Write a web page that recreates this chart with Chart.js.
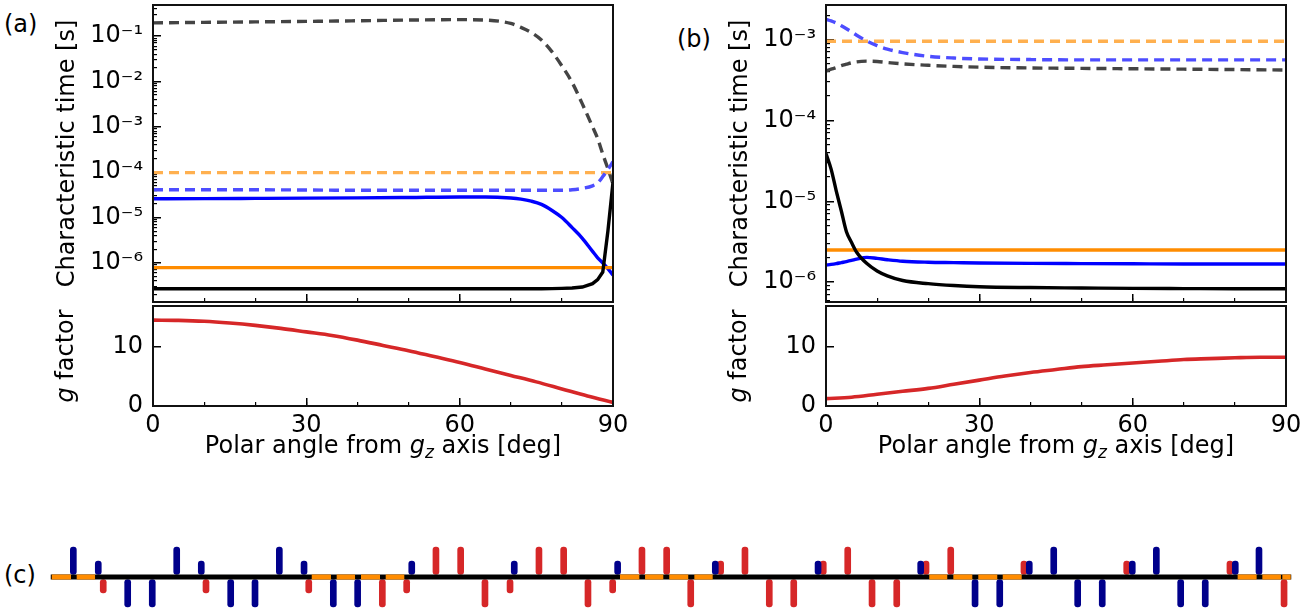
<!DOCTYPE html>
<html>
<head>
<meta charset="utf-8">
<script src="https://cdn.jsdelivr.net/npm/chart.js@4.4.0/dist/chart.umd.min.js"></script>
<style>
body{margin:0;background:#fff;width:1316px;height:614px;overflow:hidden;position:relative;font-family:"DejaVu Sans",sans-serif;}
canvas{position:absolute;}
.lbl{position:absolute;font-size:24px;color:#000;}
</style>
</head>
<body>
<div class="lbl" style="left:4px;top:10px">(a)</div>
<div class="lbl" style="left:677px;top:25px">(b)</div>
<div class="lbl" style="left:4px;top:561px">(c)</div>
<canvas id="aTop" width="625" height="303" style="left:0;top:0"></canvas>
<canvas id="aG" width="640" height="175" style="left:0;top:303px"></canvas>
<canvas id="bTop" width="626" height="303" style="left:672px;top:0"></canvas>
<canvas id="bG" width="640" height="175" style="left:672px;top:303px"></canvas>
<canvas id="seq" width="1316" height="74" style="left:0;top:540px"></canvas>
<script>
// ---- panel (a) data ----
var anglesA = [0,10,20,30,40,50,60,65,70,72,74,76,78,80,82,84,86,87,88,89,90];
var grayDashA = [0.195,0.2,0.205,0.21,0.217,0.225,0.23,0.225,0.19,0.155,0.12,0.082,0.046,0.022,0.0095,0.0032,0.001,0.00055,0.00025,0.00012,0.000055];
var blueDashA = [4.1e-5,4.1e-5,4.1e-5,4.05e-5,4.0e-5,4.0e-5,4.0e-5,4.0e-5,4.0e-5,4.0e-5,4.0e-5,4.0e-5,4.0e-5,4.0e-5,4.1e-5,4.4e-5,5.0e-5,5.8e-5,8.0e-5,1.15e-4,1.7e-4];
var blueA = [2.6e-5,2.62e-5,2.65e-5,2.68e-5,2.72e-5,2.78e-5,2.85e-5,2.85e-5,2.7e-5,2.55e-5,2.3e-5,1.95e-5,1.45e-5,1.0e-5,6e-6,3.5e-6,1.8e-6,1.3e-6,1.0e-6,7.5e-7,5.4e-7];
var blackA = [2.7e-7,2.7e-7,2.7e-7,2.7e-7,2.7e-7,2.7e-7,2.7e-7,2.7e-7,2.7e-7,2.7e-7,2.7e-7,2.7e-7,2.72e-7,2.75e-7,2.8e-7,2.95e-7,3.5e-7,4.3e-7,6.3e-7,5e-6,6e-5];
var flatAngles = [0, 90];
var orangeDashA = [9.8e-5, 9.8e-5];
var orangeA = [7.9e-7, 7.9e-7];
var gAngles = [0,5,10,15,20,25,30,35,40,45,50,55,60,65,70,75,80,85,90];
var gA = [14.6,14.55,14.4,14.1,13.7,13.2,12.6,12.0,11.2,10.3,9.4,8.4,7.4,6.3,5.2,4.1,2.9,1.7,0.6];
var rangeA = [1.38e-7, 0.483];
var tickValsA = [1e-6,1e-5,1e-4,1e-3,1e-2,1e-1];
var tickLabelsA = ['10\u207B\u2076','10\u207B\u2075','10\u207B\u2074','10\u207B\u00B3','10\u207B\u00B2','10\u207B\u00B9'];

// ---- panel (b) data ----
var anglesB = [0,1,2,3,4,5,6,8,10,12,15,20,25,30,40,50,60,70,80,90];
var blueDashB = [1.78e-3,1.7e-3,1.6e-3,1.48e-3,1.36e-3,1.24e-3,1.13e-3,9.6e-4,8.4e-4,7.6e-4,6.9e-4,6.2e-4,5.9e-4,5.75e-4,5.65e-4,5.6e-4,5.6e-4,5.6e-4,5.6e-4,5.6e-4];
var grayDashB = [4.1e-4,4.3e-4,4.5e-4,4.75e-4,4.95e-4,5.15e-4,5.3e-4,5.4e-4,5.35e-4,5.2e-4,5.0e-4,4.8e-4,4.65e-4,4.55e-4,4.45e-4,4.4e-4,4.35e-4,4.3e-4,4.25e-4,4.2e-4];
var blackB = [3.9e-5,2.5e-5,1.35e-5,7.6e-6,4.2e-6,3.1e-6,2.35e-6,1.7e-6,1.38e-6,1.2e-6,1.05e-6,9.6e-7,9.1e-7,8.8e-7,8.6e-7,8.5e-7,8.4e-7,8.35e-7,8.3e-7,8.3e-7];
var blueB = [1.63e-6,1.66e-6,1.7e-6,1.75e-6,1.8e-6,1.86e-6,1.93e-6,2.03e-6,1.97e-6,1.9e-6,1.82e-6,1.77e-6,1.75e-6,1.73e-6,1.71e-6,1.7e-6,1.69e-6,1.68e-6,1.68e-6,1.68e-6];
var orangeDashB = [9.5e-4, 9.5e-4];
var orangeB = [2.5e-6, 2.5e-6];
var gB = [1.25,1.5,2.0,2.5,3.0,3.7,4.4,5.1,5.7,6.2,6.7,7.0,7.3,7.6,7.9,8.05,8.2,8.3,8.3];
var rangeB = [5.7e-7, 2.67e-3];
var tickValsB = [1e-6,1e-5,1e-4,1e-3];
var tickLabelsB = ['10\u207B\u2076','10\u207B\u2075','10\u207B\u2074','10\u207B\u00B3'];

// ---- panel (c) pulse sequence (time in arbitrary units 0..100) ----
var blueTallUp = [1.84,10.17,18.44,80.84,89.11,97.38];
var blueShortUp = [3.85,12.15,20.43,29.11,37.37,45.70,53.57,61.85,70.12,78.87,87.17,95.47];
var blueTallDown = [6.22,8.20,14.52,16.48,22.79,24.75,74.50,76.49,82.77,84.75,91.07,93.05];
var redTallUp = [31.06,33.05,39.36,41.35,47.66,49.65,55.96,64.24,72.54];
var redShortUp = [54.00,62.27,70.55,78.44,86.72,95.04];
var redShortDown = [4.25,12.53,20.81,28.70,37.03,45.30];
var redTallDown = [26.74,35.01,43.31,51.59,57.92,59.89,66.20,68.19,99.40];
var orangeSegs = [[0.10,1.65],[2.11,3.59],[21.05,22.60],[23.06,24.54],[25.02,26.55],[27.01,28.51],
  [45.89,47.45],[47.91,49.38],[49.86,51.39],[51.88,53.36],[70.81,72.26],[72.75,74.28],[74.76,76.29],
  [76.73,78.26],[95.66,97.19],[97.65,99.15],[99.26,99.94]];
var tallUp = [0.09, 1], shortUp = [0.09, 0.53], shortDown = [-0.53, -0.09], tallDown = [-1, -0.09];

Chart.defaults.font.family = '"DejaVu Sans", sans-serif';
Chart.defaults.font.size = 24;
Chart.defaults.color = '#000';
Chart.defaults.animation = false;
Chart.defaults.plugins.legend.display = false;
Chart.defaults.plugins.tooltip.enabled = false;

var NAVY = '#00008b', RED = '#d62728';

function pts(xs, ys) {
  return xs.map(function(x, i){ return {x: x, y: ys[i]}; });
}

function valTicks(vals) {
  return function(s){ s.ticks = vals.map(function(v){ return {value: v}; }); };
}

function minorLogTicks(lo, hi) {
  return function(s){
    var out = [];
    for (var e = Math.floor(Math.log10(lo)); e <= Math.ceil(Math.log10(hi)); e++)
      for (var m = 2; m <= 9; m++) {
        var v = m * Math.pow(10, e);
        if (v > lo && v < hi) out.push({value: v});
      }
    s.ticks = out;
  };
}

function fitX(h) {
  return function(s){ s.height = h; s.paddingLeft = 0; s.paddingRight = 0; };
}
function fitY(w) {
  return function(s){ s.width = w; s.paddingTop = 0; s.paddingBottom = 0; };
}

function xScales(showLabels, h) {
  return {
    x: {type: 'linear', min: 0, max: 90, weight: 1,
        afterBuildTicks: valTicks([0,30,60,90]),
        ticks: {display: showLabels, padding: 13, autoSkip: false, maxRotation: 0},
        grid: {drawOnChartArea: false, tickLength: -8, color: '#000', lineWidth: 1.5},
        border: {display: false}, afterFit: fitX(h)},
    xm: {type: 'linear', axis: 'x', position: 'bottom', min: 0, max: 90, weight: 0,
        afterBuildTicks: valTicks([0,10,20,30,40,50,60,70,80,90]),
        ticks: {display: false},
        grid: {drawOnChartArea: false, tickLength: -4, color: '#000', lineWidth: 1.2},
        border: {display: false}, afterFit: fitX(0)}
  };
}

var framePlugin = {
  id: 'frame',
  afterDraw: function(chart) {
    var a = chart.chartArea, ctx = chart.ctx;
    ctx.save();
    ctx.strokeStyle = '#111';
    ctx.lineWidth = 2;
    ctx.strokeRect(a.left, a.top, a.right - a.left, a.bottom - a.top);
    ctx.restore();
  }
};

// titles with italic g and subscript z
function drawRich(ctx, parts, x, y, rot, size) {
  ctx.save();
  ctx.translate(x, y);
  ctx.rotate(rot);
  ctx.textBaseline = 'middle';
  ctx.fillStyle = '#000';
  var fonts = parts.map(function(p){
    return (p[1] ? 'italic ' : '') + (p[2] ? Math.round(size * 0.7) : size) + 'px "DejaVu Sans"';
  });
  var widths = parts.map(function(p, i){ ctx.font = fonts[i]; return ctx.measureText(p[0]).width; });
  var total = widths.reduce(function(a, b){ return a + b; }, 0);
  var cx = -total / 2;
  parts.forEach(function(p, i){
    ctx.font = fonts[i];
    ctx.fillText(p[0], cx, p[2] ? size * 0.28 : 0);
    cx += widths[i];
  });
  ctx.restore();
}

var xTitleParts = [['Polar angle from ', 0, 0], ['g', 1, 0], ['z', 1, 1], [' axis [deg]', 0, 0]];
var gTitleParts = [['g', 1, 0], [' factor', 0, 0]];

var richTitles = {
  id: 'richTitles',
  afterDraw: function(chart, args, opts) {
    if (!opts || !opts.on) return;
    var a = chart.chartArea;
    drawRich(chart.ctx, xTitleParts, (a.left + a.right) / 2, a.bottom + 41, 0, 24);
    drawRich(chart.ctx, gTitleParts, opts.yTitleX, (a.top + a.bottom) / 2, -Math.PI / 2, 24);
  }
};

function timeChart(id, series, range, tickVals, tickLabels, yWidth, titlePad) {
  var sc = xScales(false, 0);
  sc.y = {type: 'logarithmic', min: range[0], max: range[1], weight: 1,
    afterBuildTicks: valTicks(tickVals),
    ticks: {autoSkip: false, padding: 18, callback: function(v, i){ return tickLabels[i]; }},
    grid: {drawOnChartArea: false, tickLength: -8, color: '#000', lineWidth: 1.5},
    border: {display: false},
    title: {display: true, text: 'Characteristic time [s]', padding: {top: titlePad}},
    afterFit: fitY(yWidth)};
  sc.ym = {type: 'logarithmic', axis: 'y', position: 'left', min: range[0], max: range[1], weight: 0,
    afterBuildTicks: minorLogTicks(range[0], range[1]),
    ticks: {display: false},
    grid: {drawOnChartArea: false, tickLength: -4, color: '#000', lineWidth: 1.2},
    border: {display: false}, afterFit: fitY(0)};
  return new Chart(document.getElementById(id), {
    type: 'line',
    data: {datasets: series.map(function(s){
      return {data: pts(s.x, s.y), borderColor: s.c, borderWidth: 3.4, borderDash: s.dash ? [10, 6] : [],
        pointRadius: 0, fill: false, cubicInterpolationMode: s.straight ? 'default' : 'monotone',
        tension: s.straight ? 0 : 0.4};
    })},
    options: {responsive: false, layout: {padding: {top: 5, right: 12, bottom: 1, left: 0}}, scales: sc},
    plugins: [framePlugin]
  });
}

function gChart(id, g, yWidth, yTitleX, rightPad) {
  var sc = xScales(true, 72);
  sc.y = {type: 'linear', min: 0, max: 17, weight: 1,
    afterBuildTicks: valTicks([0, 10]),
    ticks: {autoSkip: false, padding: 18},
    grid: {drawOnChartArea: false, tickLength: -8, color: '#000', lineWidth: 1.5},
    border: {display: false}, afterFit: fitY(yWidth)};
  return new Chart(document.getElementById(id), {
    type: 'line',
    data: {datasets: [{data: pts(gAngles, g), borderColor: RED, borderWidth: 3.6, pointRadius: 0,
      fill: false, cubicInterpolationMode: 'monotone'}]},
    options: {responsive: false, layout: {padding: {top: 3, right: rightPad, bottom: 0, left: 0}}, scales: sc,
      plugins: {richTitles: {on: true, yTitleX: yTitleX}}},
    plugins: [framePlugin, richTitles]
  });
}

timeChart('aTop', [
  {x: anglesA, y: blackA, c: '#000000', straight: true},
  {x: flatAngles, y: orangeA, c: '#ff8c00'},
  {x: anglesA, y: blueA, c: '#0000ff'},
  {x: anglesA, y: blueDashA, c: '#4d4dff', dash: true},
  {x: flatAngles, y: orangeDashA, c: '#ffb04f', dash: true},
  {x: anglesA, y: grayDashA, c: '#444444', dash: true}
], rangeA, tickValsA, tickLabelsA, 153, 53);

timeChart('bTop', [
  {x: anglesB, y: blackB, c: '#000000'},
  {x: flatAngles, y: orangeB, c: '#ff8c00'},
  {x: anglesB, y: blueB, c: '#0000ff'},
  {x: anglesB, y: blueDashB, c: '#4d4dff', dash: true},
  {x: flatAngles, y: orangeDashB, c: '#ffb04f', dash: true},
  {x: anglesB, y: grayDashB, c: '#444444', dash: true}
], rangeB, tickValsB, tickLabelsB, 154, 54);

gChart('aG', gA, 153, 67, 27);
gChart('bG', gB, 154, 68, 26);

// ---- panel (c) ----
function bars(pos, ext, color) {
  return {type: 'bar', data: pos.map(function(t){ return {x: t, y: ext}; }), backgroundColor: color,
    barThickness: 6, borderRadius: 3, borderSkipped: false, grouped: false};
}
var orangeLine = [];
orangeSegs.forEach(function(s){
  orangeLine.push({x: s[0], y: 0}, {x: s[1], y: 0}, {x: s[1], y: null});
});

new Chart(document.getElementById('seq'), {
  type: 'bar',
  data: {datasets: [
    {type: 'line', data: orangeLine, borderColor: '#ff8c00', borderWidth: 5, pointRadius: 0, spanGaps: false, borderCapStyle: 'butt'},
    {type: 'line', data: [{x: 0, y: 0}, {x: 100, y: 0}], borderColor: '#000', borderWidth: 5, pointRadius: 0, borderCapStyle: 'butt'},
    bars(blueTallUp, tallUp, NAVY),
    bars(blueShortUp, shortUp, NAVY),
    bars(blueTallDown, tallDown, NAVY),
    bars(redTallUp, tallUp, RED),
    bars(redShortUp, shortUp, RED),
    bars(redShortDown, shortDown, RED),
    bars(redTallDown, tallDown, RED)
  ]},
  options: {responsive: false,
    layout: {padding: {left: 50.5, right: 24.5, top: 5, bottom: 5}},
    scales: {
      x: {type: 'linear', min: 0, max: 100, offset: false, display: false},
      y: {type: 'linear', min: -1.07, max: 1.07, display: false}
    }}
});
</script>
</body>
</html>
